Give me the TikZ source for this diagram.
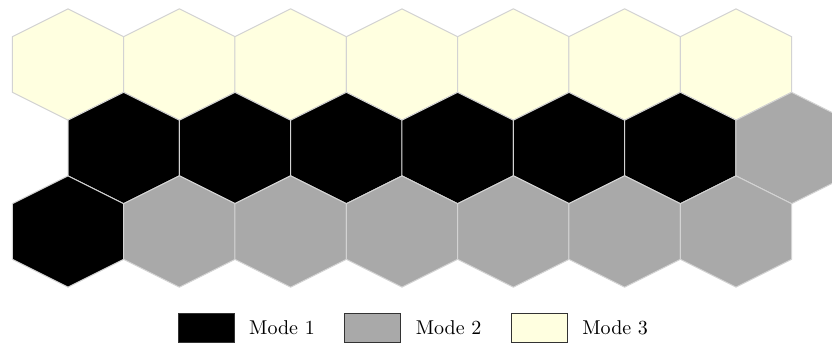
\documentclass[tikz,border=0pt]{standalone}
\usetikzlibrary{positioning}
\definecolor{modeone}{HTML}{000000}
\definecolor{modetwo}{HTML}{A9A9A9}
\definecolor{modethree}{HTML}{FFFFE0}
\definecolor{hexedge}{HTML}{D3D3D3}
\definecolor{keyedge}{HTML}{333333}
% one cell of the grid: centre x, centre y, fill colour
\newcommand{\hexcell}[3]{%
  \filldraw[cell,fill=#3] (#1,#2-55.67) -- ++(55.67,27.83) -- ++(0,55.67)
    -- ++(-55.67,27.83) -- ++(-55.67,-27.83) -- ++(0,-55.67) -- cycle;}
\begin{document}
\begin{tikzpicture}[
     x=0.5pt,y=-0.5pt,
     cell/.style={draw=hexedge,line width=0.5pt,line join=round},
     key/.style={draw=keyedge,line width=0.5pt,minimum width=28pt,minimum height=14.5pt,inner sep=0pt},
     keylabel/.style={inner sep=0pt}
   ]
   \path[use as bounding box] (0,0) rectangle (832,343);
   \begin{scope}
     \clip (0,0) rectangle (832,343);
     % Top row.
     \foreach \i in {0,...,6}
       \hexcell{68+111.33*\i}{64.5}{modethree};
     % Middle row.
     \foreach \c [count=\i from 0] in {modeone,modeone,modeone,modeone,modeone,modeone,modetwo}
       \hexcell{123.67+111.33*\i}{148}{\c};
     % Bottom row.
     \foreach \c [count=\i from 0] in {modeone,modetwo,modetwo,modetwo,modetwo,modetwo,modetwo}
       \hexcell{68+111.33*\i}{231.5}{\c};
   \end{scope}
   % Legend.
   \node[key,fill=modeone] (key1) at (206.3,327.7) {};
   \node[keylabel,right=7pt of key1] (lab1) {Mode 1};
   \node[key,fill=modetwo] (key2) at (372.9,327.7) {};
   \node[keylabel,right=7pt of key2] (lab2) {Mode 2};
   \node[key,fill=modethree] (key3) at (539.5,327.7) {};
   \node[keylabel,right=7pt of key3] (lab3) {Mode 3};
 \end{tikzpicture}
\end{document}
